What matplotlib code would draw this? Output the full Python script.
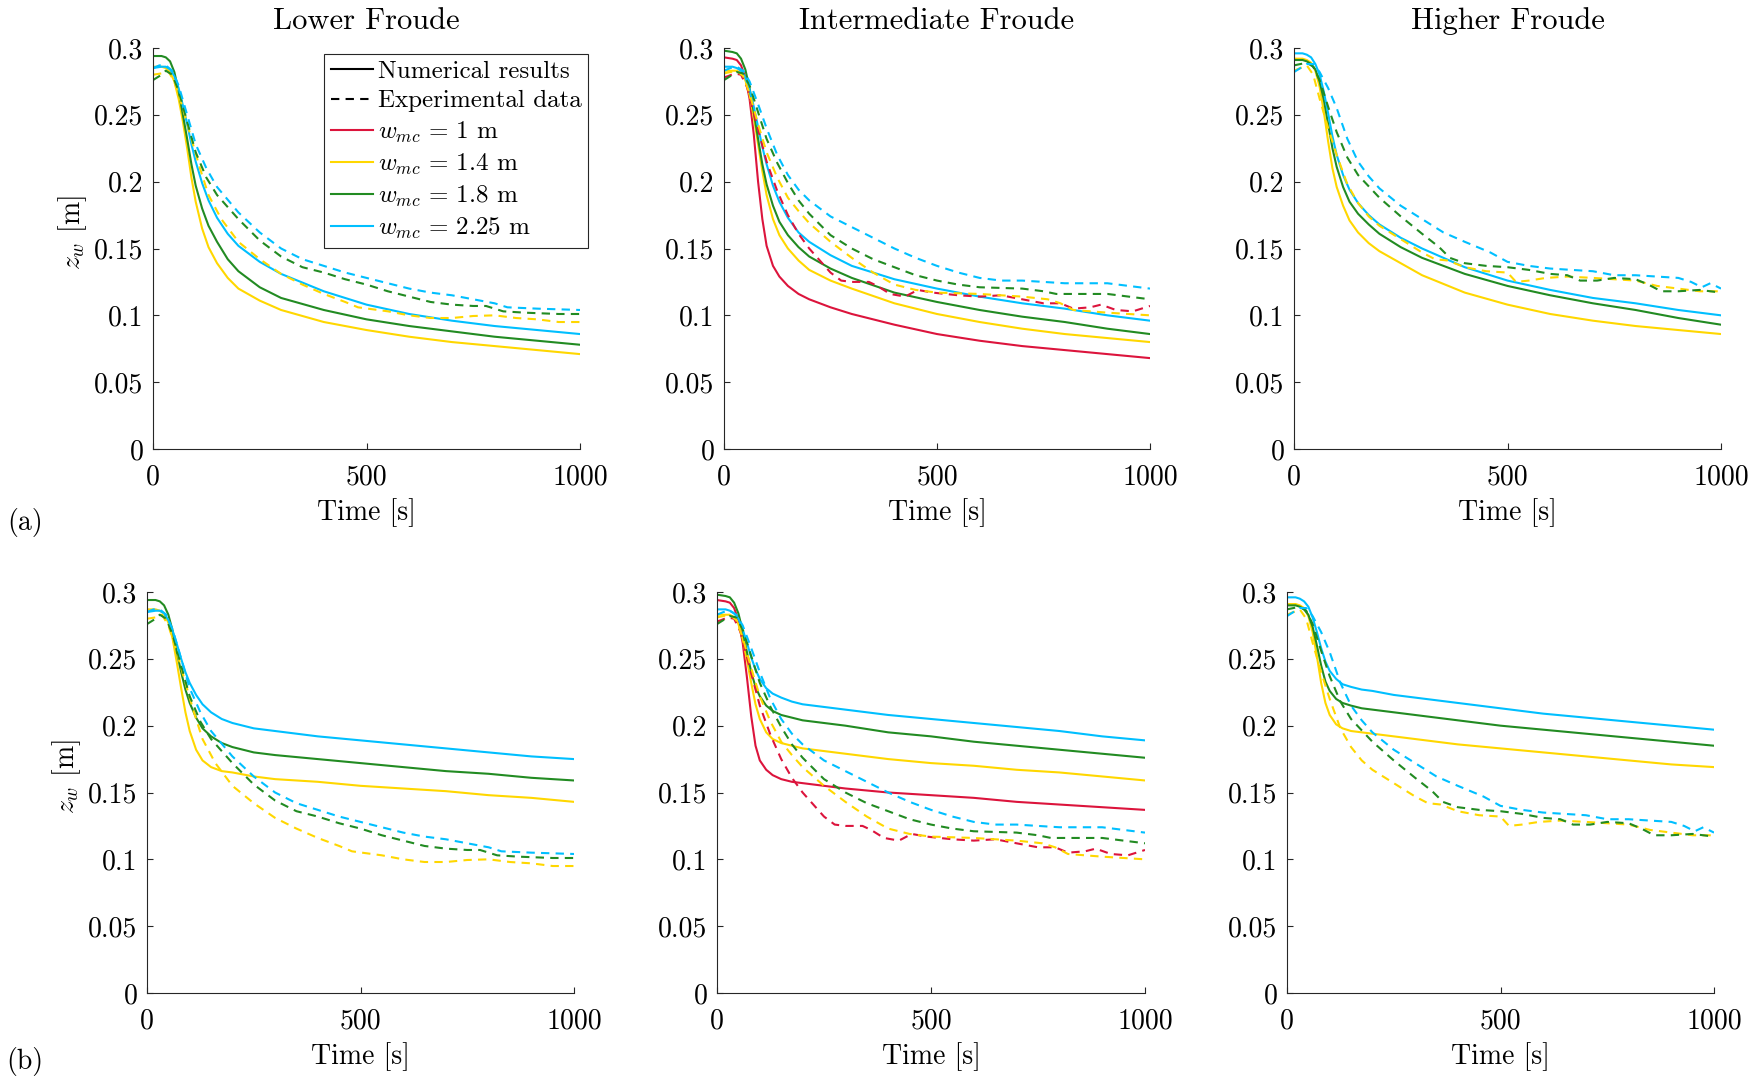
import matplotlib
matplotlib.use("Agg")
import matplotlib.pyplot as plt
from matplotlib.lines import Line2D
from matplotlib.ticker import FuncFormatter

plt.rcParams['font.family'] = 'serif'
plt.rcParams['font.serif'] = ['cmr10']
plt.rcParams['mathtext.fontset'] = 'cm'
plt.rcParams['axes.unicode_minus'] = False

# colours used for the four channel widths
RED = '#DC143C'
YELLOW = '#FFD700'
GREEN = '#228B22'
CYAN = '#00BFFF'

TITLES = ['Lower Froude', 'Intermediate Froude', 'Higher Froude']
LEGEND_LABELS = [r'$w_{mc}\,=\,1$ m', r'$w_{mc}\,=\,1.4$ m',
                 r'$w_{mc}\,=\,1.8$ m', r'$w_{mc}\,=\,2.25$ m']

# ---- numerical time grid [s] ----
T_NUM = [0, 20, 30, 40, 50, 60, 70, 80, 90, 100, 115, 130, 150, 175, 200, 250, 300, 400, 500, 600, 700, 800, 900, 1000]

# ---- row (a), numerical z_w [m] ----
a_low_yellow = [0.286, 0.286, 0.285, 0.282, 0.275, 0.262, 0.245, 0.225, 0.203, 0.185, 0.165, 0.151, 0.139, 0.128, 0.120, 0.111, 0.104, 0.095, 0.089, 0.084, 0.080, 0.077, 0.074, 0.071]
a_low_green = [0.294, 0.294, 0.293, 0.290, 0.282, 0.268, 0.250, 0.232, 0.213, 0.197, 0.180, 0.167, 0.155, 0.142, 0.133, 0.121, 0.113, 0.104, 0.097, 0.092, 0.088, 0.084, 0.081, 0.078]
a_low_cyan = [0.285, 0.286, 0.286, 0.284, 0.279, 0.270, 0.257, 0.243, 0.228, 0.215, 0.199, 0.186, 0.173, 0.161, 0.152, 0.140, 0.131, 0.118, 0.108, 0.101, 0.096, 0.092, 0.089, 0.086]

a_mid_red = [0.293, 0.292, 0.291, 0.287, 0.278, 0.262, 0.235, 0.200, 0.172, 0.152, 0.137, 0.129, 0.122, 0.116, 0.112, 0.106, 0.101, 0.093, 0.086, 0.081, 0.077, 0.074, 0.071, 0.068]
a_mid_yellow = [0.283, 0.283, 0.283, 0.281, 0.276, 0.265, 0.248, 0.228, 0.208, 0.190, 0.172, 0.160, 0.150, 0.141, 0.134, 0.126, 0.120, 0.109, 0.101, 0.095, 0.090, 0.086, 0.083, 0.080]
a_mid_green = [0.298, 0.297, 0.296, 0.292, 0.284, 0.270, 0.252, 0.232, 0.213, 0.198, 0.182, 0.170, 0.160, 0.151, 0.144, 0.135, 0.128, 0.117, 0.110, 0.104, 0.099, 0.095, 0.090, 0.086]
a_mid_cyan = [0.286, 0.286, 0.285, 0.283, 0.278, 0.269, 0.256, 0.241, 0.226, 0.213, 0.197, 0.185, 0.173, 0.162, 0.155, 0.145, 0.137, 0.127, 0.120, 0.114, 0.109, 0.105, 0.100, 0.096]

a_high_yellow = [0.292, 0.292, 0.291, 0.289, 0.283, 0.271, 0.252, 0.230, 0.210, 0.196, 0.182, 0.171, 0.162, 0.154, 0.148, 0.139, 0.130, 0.117, 0.108, 0.101, 0.096, 0.092, 0.089, 0.086]
a_high_green = [0.291, 0.291, 0.290, 0.288, 0.284, 0.275, 0.261, 0.243, 0.225, 0.211, 0.196, 0.185, 0.176, 0.168, 0.161, 0.151, 0.143, 0.131, 0.122, 0.115, 0.109, 0.104, 0.098, 0.093]
a_high_cyan = [0.296, 0.296, 0.295, 0.293, 0.288, 0.280, 0.267, 0.251, 0.234, 0.220, 0.205, 0.194, 0.184, 0.175, 0.168, 0.158, 0.150, 0.136, 0.126, 0.119, 0.113, 0.109, 0.104, 0.100]

# ---- row (b), numerical z_w [m] ----
b_low_yellow = [0.287, 0.287, 0.286, 0.284, 0.277, 0.265, 0.247, 0.228, 0.210, 0.196, 0.182, 0.174, 0.169, 0.166, 0.165, 0.162, 0.160, 0.158, 0.155, 0.153, 0.151, 0.148, 0.146, 0.143]
b_low_green = [0.294, 0.294, 0.293, 0.290, 0.283, 0.271, 0.255, 0.240, 0.227, 0.217, 0.206, 0.198, 0.192, 0.187, 0.184, 0.180, 0.178, 0.175, 0.172, 0.169, 0.166, 0.164, 0.161, 0.159]
b_low_cyan = [0.285, 0.286, 0.286, 0.284, 0.279, 0.271, 0.261, 0.250, 0.240, 0.232, 0.223, 0.216, 0.210, 0.205, 0.202, 0.198, 0.196, 0.192, 0.189, 0.186, 0.183, 0.180, 0.177, 0.175]

b_mid_red = [0.294, 0.293, 0.292, 0.288, 0.279, 0.262, 0.236, 0.207, 0.185, 0.174, 0.167, 0.163, 0.160, 0.158, 0.157, 0.155, 0.153, 0.150, 0.148, 0.146, 0.143, 0.141, 0.139, 0.137]
b_mid_yellow = [0.283, 0.283, 0.283, 0.281, 0.276, 0.265, 0.249, 0.232, 0.216, 0.205, 0.195, 0.190, 0.187, 0.185, 0.183, 0.181, 0.179, 0.175, 0.172, 0.170, 0.167, 0.165, 0.162, 0.159]
b_mid_green = [0.298, 0.297, 0.296, 0.292, 0.284, 0.271, 0.255, 0.240, 0.229, 0.222, 0.215, 0.211, 0.208, 0.206, 0.204, 0.202, 0.200, 0.195, 0.192, 0.188, 0.185, 0.182, 0.179, 0.176]
b_mid_cyan = [0.287, 0.287, 0.286, 0.284, 0.280, 0.272, 0.262, 0.251, 0.242, 0.235, 0.228, 0.224, 0.221, 0.218, 0.216, 0.214, 0.212, 0.208, 0.205, 0.202, 0.199, 0.196, 0.192, 0.189]

b_high_yellow = [0.291, 0.291, 0.290, 0.288, 0.282, 0.270, 0.252, 0.232, 0.217, 0.208, 0.201, 0.198, 0.196, 0.195, 0.194, 0.192, 0.190, 0.186, 0.183, 0.180, 0.177, 0.174, 0.171, 0.169]
b_high_green = [0.290, 0.290, 0.289, 0.287, 0.283, 0.274, 0.260, 0.245, 0.233, 0.226, 0.220, 0.217, 0.215, 0.213, 0.212, 0.210, 0.208, 0.204, 0.200, 0.197, 0.194, 0.191, 0.188, 0.185]
b_high_cyan = [0.296, 0.296, 0.295, 0.293, 0.289, 0.281, 0.270, 0.258, 0.248, 0.241, 0.235, 0.231, 0.229, 0.227, 0.226, 0.223, 0.221, 0.217, 0.213, 0.209, 0.206, 0.203, 0.200, 0.197]

# ---- experimental data (same in both rows) ----
low_exp_yellow_t = [0, 20, 35, 50, 70, 90, 110, 130, 160, 200, 250, 300, 350, 400, 450, 480, 550, 600, 650, 700, 750, 800, 850, 900, 950, 1000]
low_exp_yellow = [0.280, 0.281, 0.283, 0.275, 0.255, 0.232, 0.210, 0.190, 0.172, 0.155, 0.142, 0.131, 0.123, 0.116, 0.110, 0.106, 0.103, 0.100, 0.098, 0.098, 0.0995, 0.100, 0.098, 0.097, 0.095, 0.095]
low_exp_green_t = [0, 15, 30, 45, 60, 80, 100, 125, 150, 200, 250, 300, 350, 400, 450, 500, 550, 600, 650, 700, 750, 780, 820, 870, 950, 1000]
low_exp_green = [0.276, 0.279, 0.283, 0.280, 0.268, 0.245, 0.222, 0.203, 0.190, 0.172, 0.156, 0.144, 0.136, 0.132, 0.127, 0.123, 0.118, 0.114, 0.110, 0.108, 0.107, 0.107, 0.103, 0.102, 0.101, 0.101]
low_exp_cyan_t = [0, 15, 30, 45, 60, 80, 100, 125, 150, 200, 250, 300, 350, 400, 450, 500, 550, 600, 650, 700, 750, 800, 830, 900, 1000]
low_exp_cyan = [0.285, 0.287, 0.287, 0.283, 0.272, 0.250, 0.228, 0.210, 0.196, 0.177, 0.162, 0.150, 0.142, 0.137, 0.132, 0.128, 0.124, 0.120, 0.117, 0.115, 0.112, 0.109, 0.106, 0.105, 0.104]

mid_exp_red_t = [0, 10, 25, 40, 55, 75, 100, 125, 150, 175, 200, 225, 250, 275, 300, 340, 360, 390, 425, 455, 490, 550, 600, 650, 700, 750, 790, 820, 860, 885, 920, 960, 1000]
mid_exp_red = [0.278, 0.279, 0.281, 0.280, 0.270, 0.245, 0.215, 0.193, 0.175, 0.161, 0.150, 0.141, 0.132, 0.126, 0.125, 0.125, 0.122, 0.116, 0.114, 0.119, 0.117, 0.115, 0.114, 0.115, 0.112, 0.109, 0.109, 0.105, 0.106, 0.108, 0.104, 0.103, 0.107]
mid_exp_yellow_t = [0, 15, 30, 45, 60, 80, 100, 125, 150, 175, 200, 250, 300, 350, 400, 450, 500, 600, 700, 760, 790, 820, 900, 1000]
mid_exp_yellow = [0.281, 0.282, 0.283, 0.279, 0.266, 0.243, 0.222, 0.203, 0.188, 0.178, 0.169, 0.155, 0.143, 0.132, 0.123, 0.119, 0.117, 0.116, 0.114, 0.112, 0.109, 0.104, 0.102, 0.100]
mid_exp_green_t = [0, 15, 30, 45, 60, 80, 100, 125, 150, 175, 200, 250, 300, 350, 400, 450, 500, 550, 600, 700, 750, 780, 850, 900, 1000]
mid_exp_green = [0.276, 0.279, 0.282, 0.281, 0.272, 0.252, 0.232, 0.214, 0.199, 0.186, 0.176, 0.160, 0.150, 0.142, 0.136, 0.130, 0.126, 0.123, 0.121, 0.120, 0.118, 0.116, 0.116, 0.116, 0.112]
mid_exp_cyan_t = [0, 15, 30, 45, 60, 80, 100, 125, 150, 175, 200, 250, 300, 350, 400, 450, 500, 550, 600, 650, 700, 750, 800, 900, 950, 1000]
mid_exp_cyan = [0.283, 0.285, 0.286, 0.283, 0.275, 0.258, 0.240, 0.220, 0.205, 0.194, 0.186, 0.174, 0.166, 0.158, 0.150, 0.143, 0.137, 0.132, 0.128, 0.126, 0.126, 0.125, 0.124, 0.124, 0.122, 0.120]

high_exp_yellow_t = [0, 15, 30, 45, 60, 80, 100, 125, 150, 175, 200, 250, 300, 330, 360, 400, 450, 500, 520, 550, 590, 640, 700, 750, 800, 850, 900, 950, 1000]
high_exp_yellow = [0.283, 0.285, 0.287, 0.280, 0.262, 0.240, 0.220, 0.198, 0.184, 0.174, 0.167, 0.157, 0.147, 0.142, 0.141, 0.136, 0.133, 0.132, 0.125, 0.126, 0.128, 0.129, 0.128, 0.127, 0.126, 0.122, 0.120, 0.118, 0.118]
high_exp_green_t = [0, 15, 30, 45, 60, 80, 100, 125, 150, 200, 250, 300, 340, 365, 400, 450, 500, 550, 600, 640, 670, 710, 750, 800, 830, 860, 900, 950, 1000]
high_exp_green = [0.287, 0.288, 0.289, 0.286, 0.276, 0.256, 0.237, 0.218, 0.205, 0.188, 0.174, 0.161, 0.151, 0.143, 0.139, 0.137, 0.136, 0.134, 0.131, 0.130, 0.126, 0.126, 0.128, 0.127, 0.123, 0.118, 0.118, 0.119, 0.117]
high_exp_cyan_t = [0, 15, 30, 45, 60, 80, 100, 125, 150, 175, 200, 250, 300, 350, 400, 430, 460, 500, 550, 600, 650, 700, 750, 800, 850, 900, 930, 955, 975, 1000]
high_exp_cyan = [0.282, 0.285, 0.288, 0.288, 0.282, 0.270, 0.255, 0.232, 0.215, 0.204, 0.195, 0.182, 0.172, 0.162, 0.155, 0.151, 0.147, 0.140, 0.137, 0.135, 0.134, 0.133, 0.130, 0.130, 0.129, 0.128, 0.125, 0.121, 0.124, 0.120]


def panel_series(row, col):
    """Return lists of (t, z, colour) for the solid and dashed curves of one panel."""
    num = {
        ('a', 0): [(a_low_yellow, YELLOW), (a_low_green, GREEN), (a_low_cyan, CYAN)],
        ('a', 1): [(a_mid_red, RED), (a_mid_yellow, YELLOW), (a_mid_green, GREEN), (a_mid_cyan, CYAN)],
        ('a', 2): [(a_high_yellow, YELLOW), (a_high_green, GREEN), (a_high_cyan, CYAN)],
        ('b', 0): [(b_low_yellow, YELLOW), (b_low_green, GREEN), (b_low_cyan, CYAN)],
        ('b', 1): [(b_mid_red, RED), (b_mid_yellow, YELLOW), (b_mid_green, GREEN), (b_mid_cyan, CYAN)],
        ('b', 2): [(b_high_yellow, YELLOW), (b_high_green, GREEN), (b_high_cyan, CYAN)],
    }[(row, col)]
    exp = [
        [(low_exp_yellow_t, low_exp_yellow, YELLOW), (low_exp_green_t, low_exp_green, GREEN), (low_exp_cyan_t, low_exp_cyan, CYAN)],
        [(mid_exp_red_t, mid_exp_red, RED), (mid_exp_yellow_t, mid_exp_yellow, YELLOW), (mid_exp_green_t, mid_exp_green, GREEN), (mid_exp_cyan_t, mid_exp_cyan, CYAN)],
        [(high_exp_yellow_t, high_exp_yellow, YELLOW), (high_exp_green_t, high_exp_green, GREEN), (high_exp_cyan_t, high_exp_cyan, CYAN)],
    ][col]
    return num, exp


def style_axes(ax):
    ax.set_xlim(0, 1000)
    ax.set_ylim(0, 0.3)
    ax.set_xticks([0, 500, 1000])
    ax.set_yticks([0, 0.05, 0.1, 0.15, 0.2, 0.25, 0.3])
    ax.yaxis.set_major_formatter(FuncFormatter(lambda v, p: '%g' % round(v, 3)))
    ax.spines['top'].set_visible(False)
    ax.spines['right'].set_visible(False)
    for s in ('left', 'bottom'):
        ax.spines[s].set_color('#262626')
        ax.spines[s].set_linewidth(0.8)
    ax.tick_params(direction='in', length=4, width=0.8, colors='#262626',
                   labelcolor='black', labelsize=20)
    ax.tick_params(axis='x', pad=11)
    ax.tick_params(axis='y', pad=7)


fig = plt.figure(figsize=(17.6, 10.8), dpi=100)
W, H = 1760.0, 1080.0
# axes boxes in pixels: (left, top, right, bottom)
boxes = {
    'a': [(153, 48, 580, 449), (724, 48, 1150, 449), (1294, 48, 1721, 449)],
    'b': [(147, 592, 574, 993), (717, 592, 1145, 993), (1287, 592, 1714, 993)],
}

axes = {}
for row in ('a', 'b'):
    for col in range(3):
        l, t, r, b = boxes[row][col]
        ax = fig.add_axes([l / W, 1 - b / H, (r - l) / W, (b - t) / H])
        num, exp = panel_series(row, col)
        for zz, c in num:
            ax.plot(T_NUM, zz, color=c, lw=1.5)
        for tt, zz, c in exp:
            ax.plot(tt, zz, color=c, lw=1.5, dashes=(4, 3))
        style_axes(ax)
        ax.set_xlabel('Time [s]', fontsize=20)
        ax.xaxis.set_label_coords(0.5, -0.122)
        if col == 0:
            ax.set_ylabel(r'$z_w$ [m]', fontsize=20)
            ax.yaxis.set_label_coords(-0.15, 0.54)
        if row == 'a':
            ax.text(0.5, 1.067, TITLES[col], transform=ax.transAxes,
                    ha='center', va='center', fontsize=22)
        axes[(row, col)] = ax

fig.text(25 / W, 1 - 522 / H, '(a)', ha='center', va='center', fontsize=20)
fig.text(25 / W, 1 - 1061 / H, '(b)', ha='center', va='center', fontsize=20)

handles = [Line2D([], [], color='black', lw=1.5),
           Line2D([], [], color='black', lw=1.5, dashes=(4, 3)),
           Line2D([], [], color=RED, lw=1.5),
           Line2D([], [], color=YELLOW, lw=1.5),
           Line2D([], [], color=GREEN, lw=1.5),
           Line2D([], [], color=CYAN, lw=1.5)]
labels = ['Numerical results', 'Experimental data'] + LEGEND_LABELS
leg = axes[('a', 0)].legend(handles, labels, loc='upper right',
                            bbox_to_anchor=(1.019, 0.985), borderaxespad=0,
                            fontsize=18, handlelength=1.7, handletextpad=0.2,
                            labelspacing=0.28, borderpad=0.25, fancybox=False,
                            framealpha=1, edgecolor='#262626')
leg.get_frame().set_linewidth(0.8)

fig.savefig('out.png', dpi=100)
